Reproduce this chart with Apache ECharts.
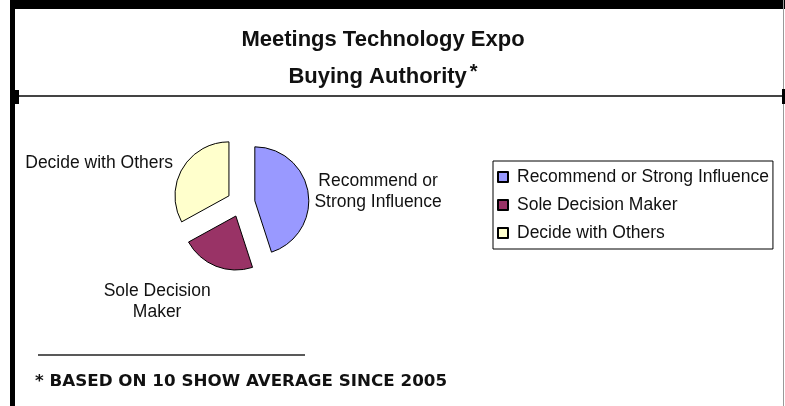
<!doctype html>
<html>
    <head>
        <meta charset="utf-8">
        <title>Meetings Technology Expo - Buying Authority</title>
        <style>
            html, body { margin: 0; padding: 0; background: #fff; }
            #main { width: 785px; height: 406px; }
        </style>
    </head>
    <body>
        <div id="main"></div>
        <script src="https://cdn.jsdelivr.net/npm/echarts@6/dist/echarts.min.js"></script>
        <script>
            var categories = ['Recommend or Strong Influence', 'Sole Decision Maker', 'Decide with Others'];
            var values = [45, 22, 33];
            var sliceLabels = ['Recommend or\nStrong Influence', 'Sole Decision\nMaker', 'Decide with Others'];
            var colors = ['#9999ff', '#993366', '#ffffcc'];

            // nudges for the slice labels, so they sit where the original puts them
            var labelNudge = [[60, 0], [-52, 31], [-74, -3]];

            var font = '"Liberation Sans", Arial, sans-serif';
            var chart = echarts.init(document.getElementById('main'), null, { renderer: 'canvas' });

            chart.setOption({
                backgroundColor: '#fff',
                animation: false,
                title: {
                    text: 'Meetings Technology Expo\nBuying Authority{s|*}',
                    left: 383,
                    top: 21,
                    padding: 0,
                    textAlign: 'center',
                    textStyle: {
                        fontFamily: font,
                        fontSize: 22,
                        fontWeight: 'bold',
                        color: '#111',
                        lineHeight: 37,
                        rich: {
                            s: {
                                fontFamily: font,
                                fontSize: 20,
                                fontWeight: 'bold',
                                color: '#111',
                                padding: [0, 0, 8, 3]
                            }
                        }
                    }
                },
                legend: {
                    orient: 'vertical',
                    left: 493,
                    top: 161,
                    padding: [7, 4, 7, 4],
                    itemWidth: 10,
                    itemHeight: 10,
                    itemGap: 10,
                    borderColor: '#000',
                    borderWidth: 1,
                    borderRadius: 0,
                    icon: 'rect',
                    selectedMode: false,
                    data: categories,
                    textStyle: {
                        fontFamily: font,
                        fontSize: 17.5,
                        color: '#111',
                        lineHeight: 18,
                        padding: [0, 0, 0, 4]
                    }
                },
                series: [{
                    type: 'pie',
                    center: [241, 203],
                    radius: 54,
                    startAngle: 90,
                    clockwise: true,
                    selectedMode: 'multiple',
                    selectedOffset: 14,
                    itemStyle: {
                        borderColor: '#000',
                        borderWidth: 1
                    },
                    emphasis: { disabled: true },
                    label: {
                        show: true,
                        position: 'outside',
                        fontFamily: font,
                        fontSize: 17.5,
                        lineHeight: 20.5,
                        color: '#111',
                        formatter: function (p) {
                            return sliceLabels[p.dataIndex];
                        }
                    },
                    labelLine: { show: false, length: 5, length2: 0 },
                    labelLayout: function (p) {
                        return {
                            align: 'center',
                            dx: labelNudge[p.dataIndex][0],
                            dy: labelNudge[p.dataIndex][1]
                        };
                    },
                    data: categories.map(function (name, i) {
                        return {
                            name: name,
                            value: values[i],
                            selected: true,
                            itemStyle: { color: colors[i] },
                            select: { itemStyle: { color: colors[i], borderColor: '#000', borderWidth: 1 } }
                        };
                    })
                }],
                graphic: [
                    // outer frame
                    { type: 'rect', shape: { x: 10, y: 0, width: 775, height: 9 }, style: { fill: '#000' }, silent: true },
                    { type: 'rect', shape: { x: 10, y: 0, width: 5, height: 406 }, style: { fill: '#000' }, silent: true },
                    { type: 'line', shape: { x1: 783.5, y1: 0, x2: 783.5, y2: 406 }, style: { stroke: '#999', lineWidth: 1 }, silent: true },
                    // separator under the title
                    { type: 'line', shape: { x1: 15, y1: 96, x2: 784, y2: 96 }, style: { stroke: '#444', lineWidth: 2 }, silent: true },
                    { type: 'rect', shape: { x: 13, y: 90, width: 6, height: 14 }, style: { fill: '#000' }, silent: true },
                    { type: 'rect', shape: { x: 782, y: 89, width: 3, height: 15 }, style: { fill: '#000' }, silent: true },
                    // footnote
                    { type: 'line', shape: { x1: 38, y1: 355, x2: 305, y2: 355 }, style: { stroke: '#222', lineWidth: 1.5 }, silent: true },
                    {
                        type: 'text', x: 35, y: 382, scaleX: 1.078, silent: true,
                        style: {
                            text: '* BASED ON 10 SHOW AVERAGE SINCE 2005',
                            fontFamily: '"DejaVu Sans", Verdana, sans-serif',
                            fontSize: 15.5,
                            fontWeight: 'bold',
                            fill: '#111',
                            verticalAlign: 'middle'
                        }
                    }
                ]
            });

            window.onresize = chart.resize;
        </script>
    </body>
</html>
